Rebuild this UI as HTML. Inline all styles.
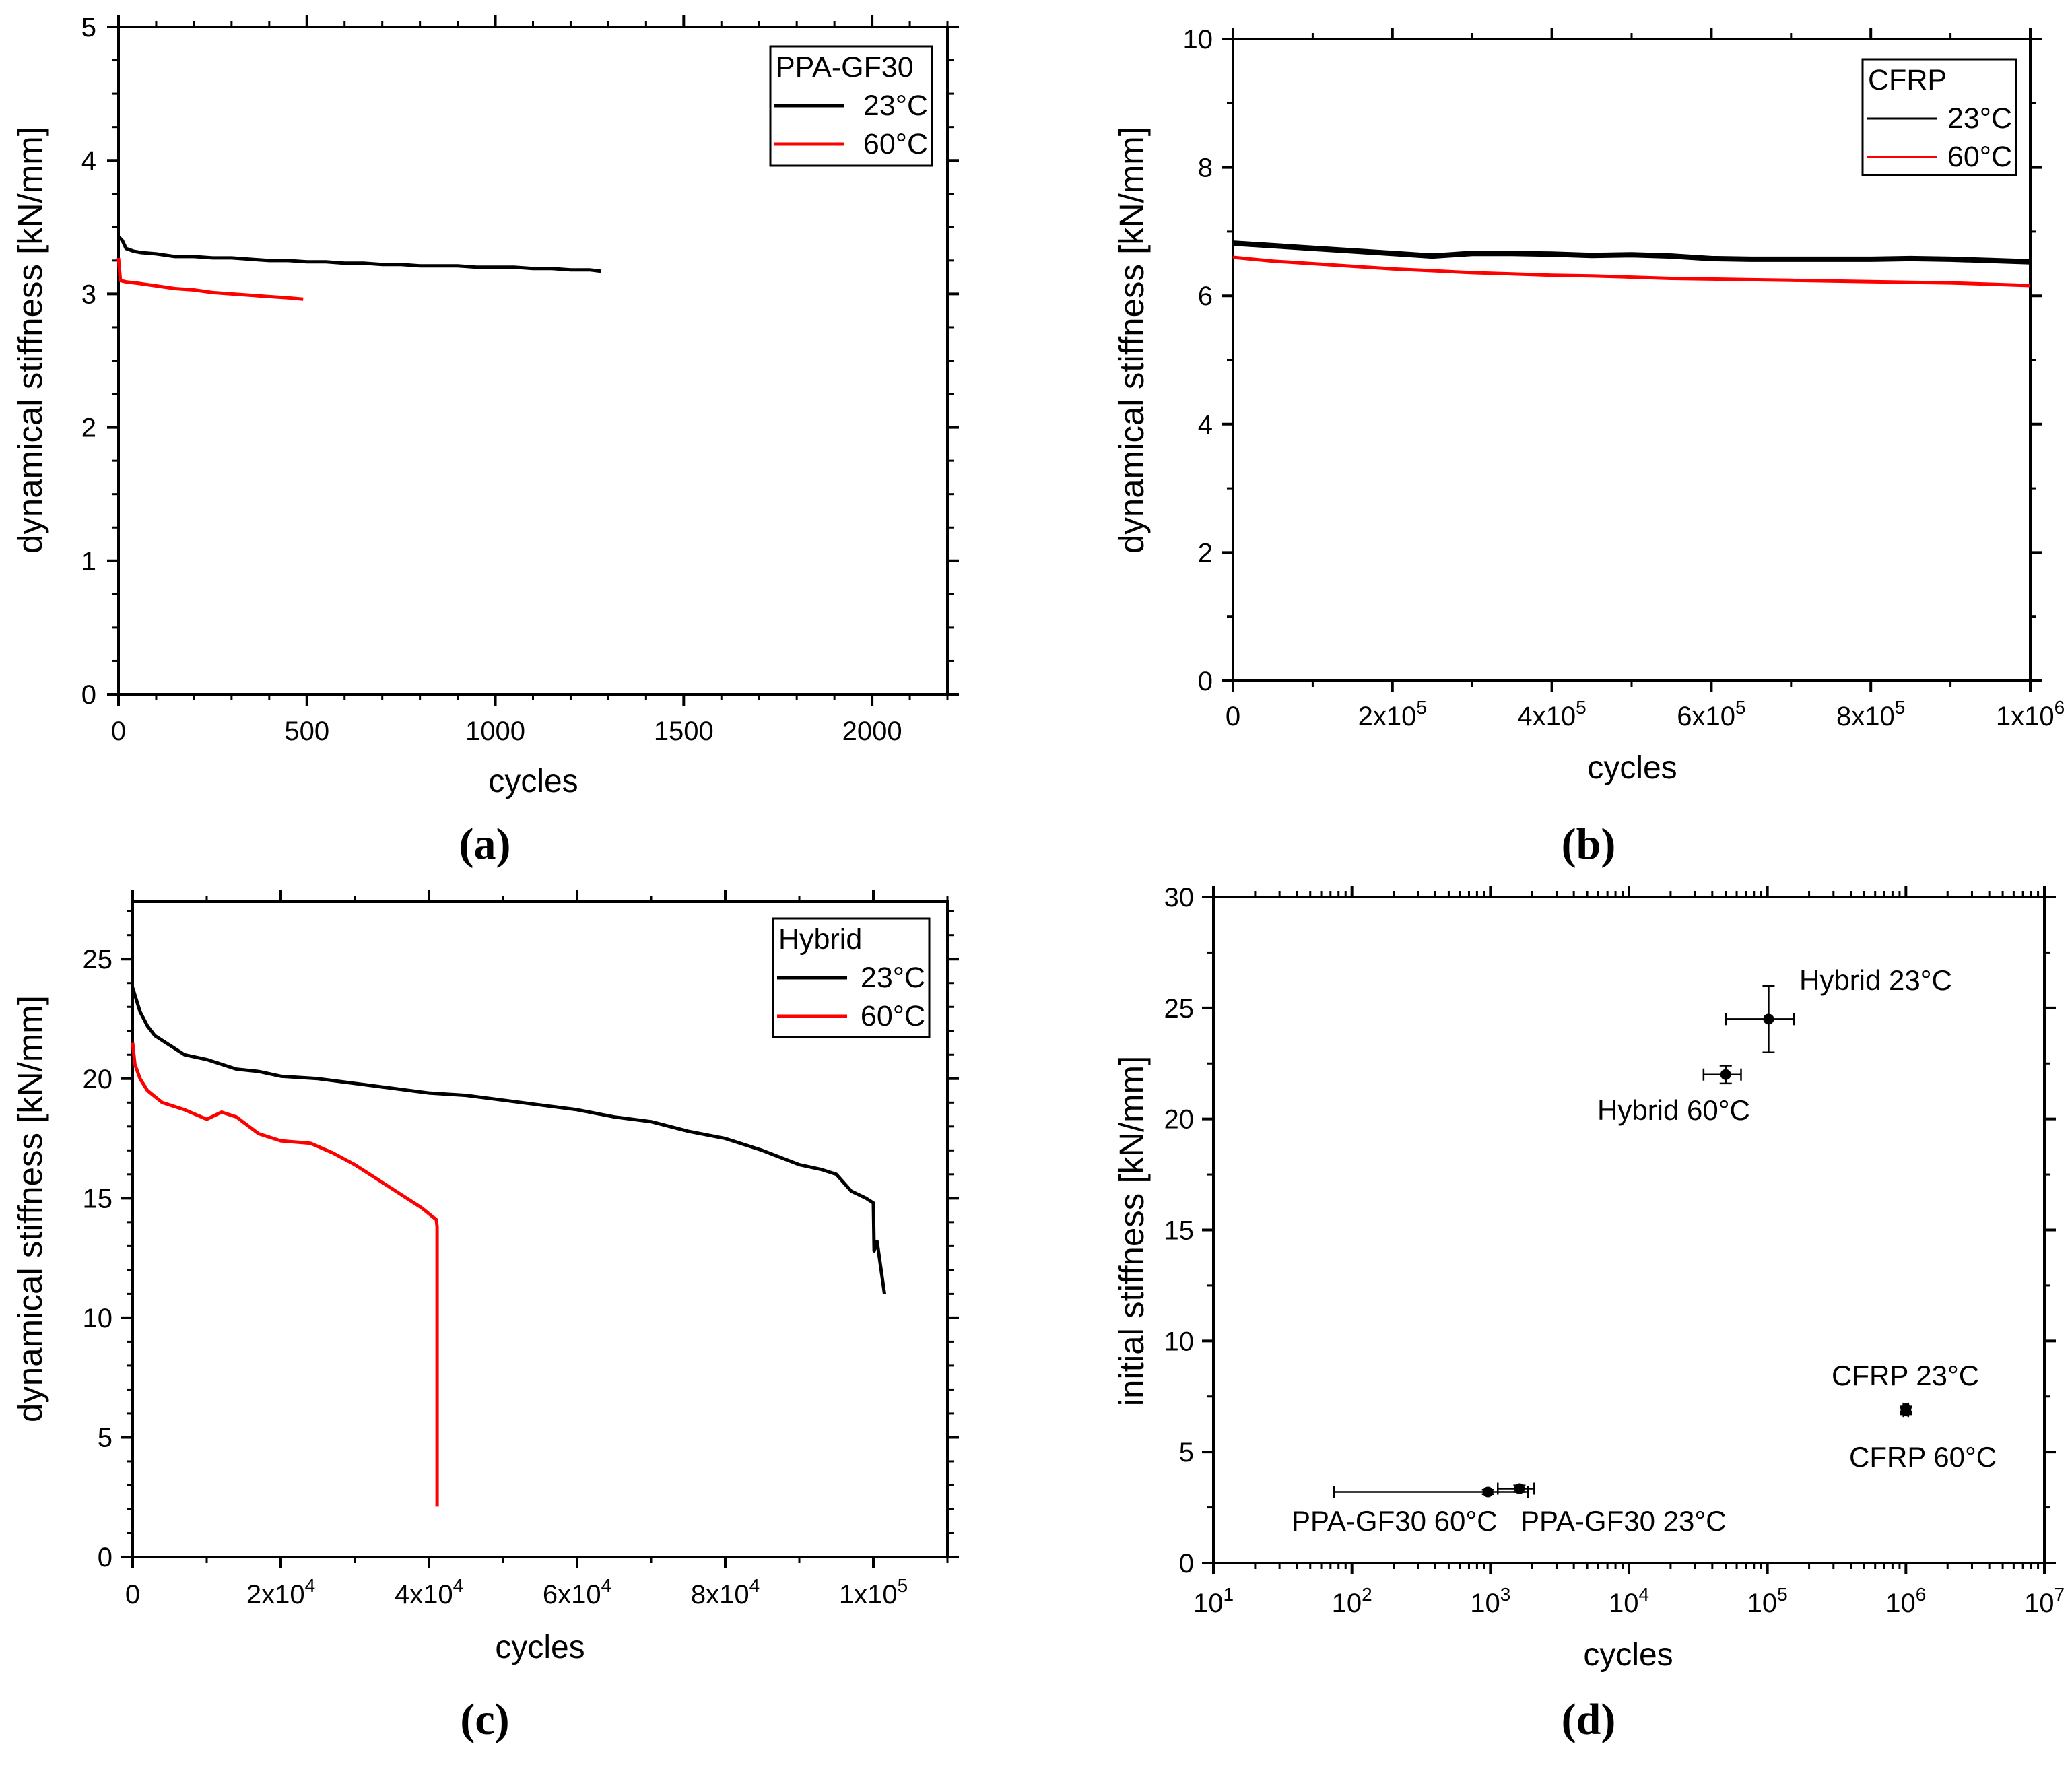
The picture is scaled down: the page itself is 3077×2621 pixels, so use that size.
<!DOCTYPE html>
<html><head><meta charset="utf-8"><style>
html,body{margin:0;padding:0;background:#fff}
svg{display:block}
text{font-family:"Liberation Sans",Arial,sans-serif;fill:#000}
.cap{font-family:"Liberation Serif",serif;font-weight:bold}
</style></head><body>
<svg id="fig" width="3077" height="2621" viewBox="0 0 3077 2621" xmlns="http://www.w3.org/2000/svg"></svg>
<script>
// ---- data panel a (PPA-GF30) ----
const aX23=[0,10,20,40,60,100,150,200,250,300,350,400,450,500,550,600,650,700,750,800,850,900,950,1000,1050,1100,1150,1200,1250,1280];
const aY23=[3.43,3.40,3.34,3.32,3.31,3.30,3.28,3.28,3.27,3.27,3.26,3.25,3.25,3.24,3.24,3.23,3.23,3.22,3.22,3.21,3.21,3.21,3.20,3.20,3.20,3.19,3.19,3.18,3.18,3.17];
const aX60=[0,5,20,50,100,150,200,250,300,350,400,450,490];
const aY60=[3.27,3.10,3.09,3.08,3.06,3.04,3.03,3.01,3.00,2.99,2.98,2.97,2.96];
// ---- data panel b (CFRP) ----
const bX23=[0,50000,100000,150000,200000,250000,300000,350000,400000,450000,500000,550000,600000,650000,700000,750000,800000,850000,900000,950000,1000000];
const bY23=[6.82,6.78,6.74,6.70,6.66,6.62,6.66,6.66,6.65,6.63,6.64,6.62,6.58,6.57,6.57,6.57,6.57,6.58,6.57,6.55,6.53];
const bX60=[0,50000,100000,150000,200000,250000,300000,350000,400000,450000,500000,550000,600000,650000,700000,750000,800000,850000,900000,950000,1000000];
const bY60=[6.60,6.54,6.50,6.46,6.42,6.39,6.36,6.34,6.32,6.31,6.29,6.27,6.26,6.25,6.24,6.23,6.22,6.21,6.20,6.18,6.16];
// ---- data panel c (Hybrid) ----
const cX23=[0,500,1000,2000,3000,5000,7000,10000,14000,17000,20000,25000,30000,35000,40000,45000,50000,55000,60000,65000,70000,75000,80000,85000,90000,93000,95000,97000,99000,100000,100100,100500,101500];
const cY23=[23.8,23.3,22.8,22.2,21.8,21.4,21.0,20.8,20.4,20.3,20.1,20.0,19.8,19.6,19.4,19.3,19.1,18.9,18.7,18.4,18.2,17.8,17.5,17.0,16.4,16.2,16.0,15.3,15.0,14.8,12.8,13.2,11.0];
const cX60=[0,300,1000,2000,4000,7000,10000,12000,14000,17000,20000,24000,27000,30000,33000,36000,39000,41000,41100,41100];
const cY60=[21.5,20.6,20.0,19.5,19.0,18.7,18.3,18.6,18.4,17.7,17.4,17.3,16.9,16.4,15.8,15.2,14.6,14.1,13.8,2.1];
// ---- data panel d (initial stiffness) ----
const dLabels=["PPA-GF30 60°C","PPA-GF30 23°C","Hybrid 60°C","Hybrid 23°C","CFRP 23°C","CFRP 60°C"];
const dX=[960,1620,50000,102000,1000000,1000000];
const dY=[3.2,3.35,22.0,24.5,6.95,6.85];
const dXlo=[74,1130,34600,50000,960000,960000];
const dXhi=[1860,2070,64500,155000,1040000,1040000];
const dYlo=[3.1,3.2,21.6,23.0,6.8,6.7];
const dYhi=[3.3,3.5,22.4,26.0,7.05,7.0];
const aTicks=["0","500","1000","1500","2000"];
const aYTicks=["0","1","2","3","4","5"];

const NS="http://www.w3.org/2000/svg";
const svg=document.getElementById('fig');
function el(tag,attrs,parent,txt){const e=document.createElementNS(NS,tag);for(const k in attrs)e.setAttribute(k,attrs[k]);if(txt!==undefined)e.textContent=txt;(parent||svg).appendChild(e);return e;}

function makeAxes(P){
  const g=el('g',{});
  
  
  const sx=P.log?(v=>P.L+(Math.log10(v)-P.x0)/(P.x1-P.x0)*(P.R-P.L)):(v=>P.L+(v-P.x0)/(P.x1-P.x0)*(P.R-P.L));
  const sy=v=>P.B-(v-P.y0)/(P.y1-P.y0)*(P.B-P.T);
  const fr=el('rect',{x:P.L,y:P.T,width:P.R-P.L,height:P.B-P.T,fill:'none',stroke:'#000','stroke-width':4},g);
  
  
  P.xMinor.forEach(v=>{const x=sx(v);
    el('line',{x1:x,x2:x,y1:P.B,y2:P.B+9,stroke:'#000','stroke-width':3},g);
    el('line',{x1:x,x2:x,y1:P.T,y2:P.T-9,stroke:'#000','stroke-width':3},g);});
  P.xMajor.forEach((v,i)=>{const x=sx(v);
    el('line',{x1:x,x2:x,y1:P.B,y2:P.B+17,stroke:'#000','stroke-width':4},g);
    el('line',{x1:x,x2:x,y1:P.T,y2:P.T-17,stroke:'#000','stroke-width':4},g);
    const lab=P.xLab[i];
    const t=el('text',{x:x,y:P.xLabY,'font-size':40,'text-anchor':'middle'},g);
    
    
    if(Array.isArray(lab)){el('tspan',{},t,lab[0]);el('tspan',{dy:-17,'font-size':28},t,lab[1]);}
    else t.textContent=lab;
  });
  P.yMinor.forEach(v=>{const y=sy(v);
    el('line',{x1:P.L,x2:P.L-9,y1:y,y2:y,stroke:'#000','stroke-width':3},g);
    el('line',{x1:P.R,x2:P.R+9,y1:y,y2:y,stroke:'#000','stroke-width':3},g);});
  P.yMajor.forEach((v,i)=>{const y=sy(v);
    el('line',{x1:P.L,x2:P.L-17,y1:y,y2:y,stroke:'#000','stroke-width':4},g);
    el('line',{x1:P.R,x2:P.R+17,y1:y,y2:y,stroke:'#000','stroke-width':4},g);
    const t=el('text',{x:P.yLabX,y:y+14,'font-size':40,'text-anchor':'end'},g,P.yLab[i]);
    
    
  });
  const xt=el('text',{x:P.xtX,y:P.xtY,'font-size':48,'text-anchor':'middle'},svg,'cycles');
  
  
  const yt=el('text',{x:0,y:0,'font-size':51,'text-anchor':'middle',transform:`translate(${P.ytX},${P.ytY}) rotate(-90)`},svg,P.yTitle);
  
  
  const cp=el('text',{x:P.capX,y:P.capY,'font-size':66,'text-anchor':'middle','class':'cap'},svg,P.cap);
  
  
  return {sx,sy};
}
function series(ax,xs,ys,color,w,name){
  const d=xs.map((x,i)=>(i?'L':'M')+ax.sx(x).toFixed(1)+','+ax.sy(ys[i]).toFixed(1)).join(' ');
  const p=el('path',{d:d,fill:'none',stroke:color,'stroke-width':w,'stroke-linejoin':'round'});
  
  
}
function legend(name,x,y,w,h,title,lw){
  const g=el('g',{});
  
  
  el('rect',{x:x,y:y,width:w,height:h,fill:'#fff',stroke:'#000','stroke-width':3},g);
  el('text',{x:x+8,y:y+45,'font-size':43},g,title);
  el('line',{x1:x+6,x2:x+110,y1:y+88,y2:y+88,stroke:'#000','stroke-width':lw},g);
  el('text',{x:x+w-6,y:y+102,'font-size':43,'text-anchor':'end'},g,'23°C');
  el('line',{x1:x+6,x2:x+110,y1:y+145,y2:y+145,stroke:'#f00','stroke-width':lw},g);
  el('text',{x:x+w-6,y:y+159,'font-size':43,'text-anchor':'end'},g,'60°C');
}
function rng(a,b,s){const r=[];for(let v=a;v<=b+1e-9;v+=s)r.push(+v.toFixed(6));return r;}

const A=makeAxes({name:'panel-a',L:176,R:1407,T:40,B:1031,x0:0,x1:2200,y0:0,y1:5,
 xMajor:[0,500,1000,1500,2000],xMinor:rng(0,2200,100),xLab:aTicks,xLabY:1099,
 yMajor:[0,1,2,3,4,5],yMinor:rng(0,5,0.25),yLab:aYTicks,yLabX:143,
 xtX:792,xtY:1176,ytX:62,ytY:505,yTitle:'dynamical stiffness [kN/mm]',capX:720,capY:1275,cap:'(a)'});
series(A,aX23,aY23,'#000',5,'series-ppa-23c');
series(A,aX60,aY60,'#f00',5,'series-ppa-60c');
legend('legend-a',1144,69,240,177,'PPA-GF30',5);

const B=makeAxes({name:'panel-b',L:1831,R:3015,T:58,B:1011,x0:0,x1:1000000,y0:0,y1:10,
 xMajor:[0,200000,400000,600000,800000,1000000],xMinor:rng(0,1000000,100000),
 xLab:['0',['2x10','5'],['4x10','5'],['6x10','5'],['8x10','5'],['1x10','6']],xLabY:1077,
 yMajor:[0,2,4,6,8,10],yMinor:rng(0,10,1),yLab:['0','2','4','6','8','10'],yLabX:1801,
 xtX:2424,xtY:1156,ytX:1698,ytY:505,yTitle:'dynamical stiffness [kN/mm]',capX:2359,capY:1275,cap:'(b)'});
series(B,bX23,bY23,'#000',8,'series-cfrp-23c');
series(B,bX60,bY60,'#f00',5,'series-cfrp-60c');
legend('legend-b',2766,88,228,172,'CFRP',3);

const C=makeAxes({name:'panel-c',L:197,R:1407,T:1339,B:2312,x0:0,x1:110000,y0:0,y1:27.4,
 xMajor:[0,20000,40000,60000,80000,100000],xMinor:rng(0,110000,10000),
 xLab:['0',['2x10','4'],['4x10','4'],['6x10','4'],['8x10','4'],['1x10','5']],xLabY:2381,
 yMajor:[0,5,10,15,20,25],yMinor:rng(0,27,1),yLab:['0','5','10','15','20','25'],yLabX:167,
 xtX:802,xtY:2462,ytX:62,ytY:1795,yTitle:'dynamical stiffness [kN/mm]',capX:720,capY:2575,cap:'(c)'});
series(C,cX23,cY23,'#000',5,'series-hybrid-23c');
series(C,cX60,cY60,'#f00',5,'series-hybrid-60c');
legend('legend-c',1148,1364,232,176,'Hybrid',5);

const dMinor=[];for(let e=1;e<7;e++)for(let m=2;m<=9;m++)dMinor.push(m*Math.pow(10,e));
const D=makeAxes({name:'panel-d',log:true,L:1802,R:3036,T:1332,B:2321,x0:1,x1:7,y0:0,y1:30,
 xMajor:[10,100,1000,1e4,1e5,1e6,1e7],xMinor:dMinor,
 xLab:[['10','1'],['10','2'],['10','3'],['10','4'],['10','5'],['10','6'],['10','7']],xLabY:2394,
 yMajor:[0,5,10,15,20,25,30],yMinor:rng(0,30,2.5),yLab:['0','5','10','15','20','25','30'],yLabX:1773,
 xtX:2418,xtY:2473,ytX:1698,ytY:1828,yTitle:'initial stiffness [kN/mm]',capX:2359,capY:2575,cap:'(d)'});
const dLabPos=[[1918,2273],[2258,2273],[2372,1663],[2672,1470],[2720,2057],[2746,2178]];
dX.forEach((v,i)=>{
  const g=el('g',{});
  
  
  const x=D.sx(v),y=D.sy(dY[i]),xl=D.sx(dXlo[i]),xh=D.sx(dXhi[i]),yl=D.sy(dYlo[i]),yh=D.sy(dYhi[i]);
  el('line',{x1:xl,x2:xh,y1:y,y2:y,stroke:'#000','stroke-width':2.5},g);
  el('line',{x1:xl,x2:xl,y1:y-9,y2:y+9,stroke:'#000','stroke-width':2.5},g);
  el('line',{x1:xh,x2:xh,y1:y-9,y2:y+9,stroke:'#000','stroke-width':2.5},g);
  el('line',{x1:x,x2:x,y1:yl,y2:yh,stroke:'#000','stroke-width':2.5},g);
  el('line',{x1:x-9,x2:x+9,y1:yl,y2:yl,stroke:'#000','stroke-width':2.5},g);
  el('line',{x1:x-9,x2:x+9,y1:yh,y2:yh,stroke:'#000','stroke-width':2.5},g);
  el('circle',{cx:x,cy:y,r:8,fill:'#000'},g);
  el('text',{x:dLabPos[i][0],y:dLabPos[i][1],'font-size':42},g,dLabels[i]);
});
</script>
</body></html>
